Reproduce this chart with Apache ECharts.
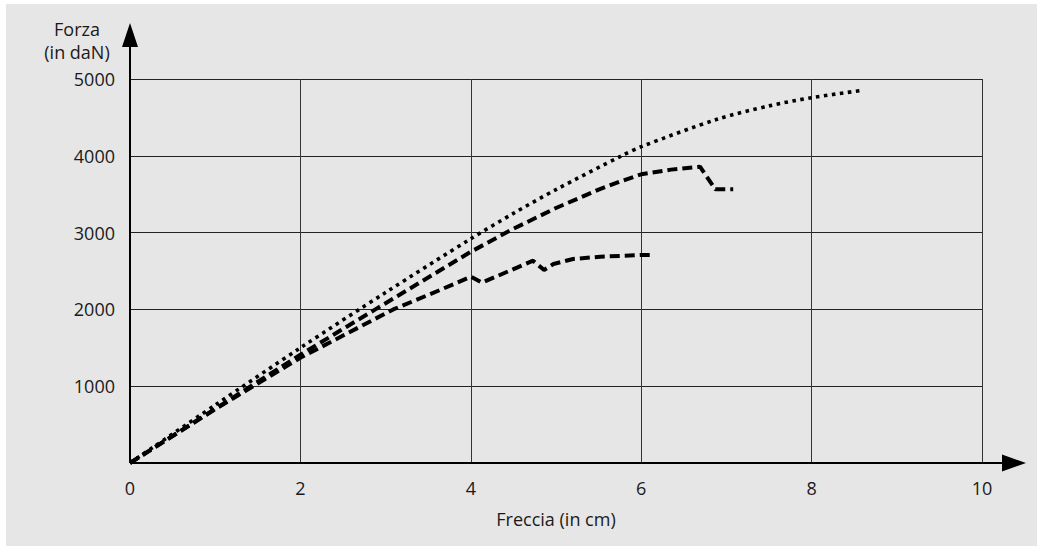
<!DOCTYPE html>
<html>
<head>
<meta charset="utf-8">
<script src="https://cdn.jsdelivr.net/npm/echarts@6/dist/echarts.min.js"></script>
<style>
html,body{margin:0;padding:0;background:#ffffff;}
#bg{position:absolute;left:6px;top:4px;width:1031px;height:542px;background:#e6e6e6;}
#chart{position:absolute;left:0;top:0;width:1039px;height:546px;}
</style>
</head>
<body>
<div id="bg"></div>
<div id="chart"></div>
<script>
// Data
const xTicks = [0, 2, 4, 6, 8, 10];
const yTicks = [1000, 2000, 3000, 4000, 5000];

const dottedX = [0, 1, 2, 3, 4, 4.5, 5, 5.77, 6, 6.89, 7.5, 8, 8.57];
const dottedY = [0, 755, 1500, 2220, 2920, 3250, 3560, 4000, 4119, 4475, 4650, 4757, 4848];

const upperDashX = [0, 1, 2, 2.88, 4, 4.5, 5, 5.5, 5.75, 6, 6.35, 6.69, 6.87, 7.08];
const upperDashY = [0, 705, 1410, 2000, 2750, 3050, 3320, 3560, 3663, 3759, 3820, 3858, 3564, 3564];

const lowerDashX = [0, 1, 2, 3.09, 3.64, 4, 4.13, 4.73, 4.86, 4.97, 5.2, 5.52, 6, 6.14];
const lowerDashY = [0, 700, 1370, 2000, 2253, 2426, 2348, 2634, 2513, 2591, 2656, 2686, 2708, 2708];

const xName = 'Freccia (in cm)';
const yName = 'Forza\n(in daN)';

function pairs(xs, ys){ return xs.map((x,i)=>[x, ys[i]]); }

const FONT = '"Open Sans", "Liberation Sans", sans-serif';
const chart = echarts.init(document.getElementById('chart'), null, {renderer:'svg'});

chart.setOption({
  backgroundColor: 'transparent',
  animation: false,
  grid: {left:130, right:57, top:79, bottom:83, containLabel:false},
  xAxis: {
    type:'value', min:0, max:10, interval:2,
    name: xName, nameLocation:'middle', nameGap:47,
    nameTextStyle:{fontFamily:FONT, fontSize:18, color:'#1a1a1a'},
    axisLine:{show:false}, axisTick:{show:false},
    axisLabel:{fontFamily:FONT, fontSize:18, color:'#1a1a1a', margin:16,
      formatter: v => xTicks.includes(v) ? String(v) : ''},
    splitLine:{show:true, lineStyle:{color:'#333', width:1}}
  },
  yAxis: {
    type:'value', min:0, max:5000, interval:1000,
    axisLine:{show:false}, axisTick:{show:false},
    axisLabel:{fontFamily:FONT, fontSize:18, color:'#1a1a1a', margin:15,
      formatter: v => yTicks.includes(v) ? String(v) : ''},
    splitLine:{show:true, lineStyle:{color:'#222', width:1}}
  },
  series: [
    {type:'line', data:pairs(dottedX, dottedY), showSymbol:false, smooth:0.3,
     lineStyle:{color:'#000', width:3.6, type:[3.5,4.5], cap:'butt'}},
    {type:'line', data:pairs(upperDashX, upperDashY), showSymbol:false,
     lineStyle:{color:'#000', width:4, type:[10,5], cap:'butt'}},
    {type:'line', data:pairs(lowerDashX, lowerDashY), showSymbol:false,
     lineStyle:{color:'#000', width:4, type:[10,5], cap:'butt'}}
  ]
});

// Axis lines with arrows (decoration), positioned from the axes' own scale
const o = chart.convertToPixel({gridIndex:0}, [0, 0]);
const xEnd = chart.convertToPixel({gridIndex:0}, [10, 0]);
const yEnd = chart.convertToPixel({gridIndex:0}, [0, 5000]);
const xLineEnd = xEnd[0] + 20, xTip = xEnd[0] + 44;
const yLineEnd = yEnd[1] - 32, yTip = yEnd[1] - 56;

chart.setOption({
  graphic: [
    {type:'line', shape:{x1:o[0], y1:o[1], x2:xLineEnd, y2:o[1]}, style:{stroke:'#000', lineWidth:2}, z:100},
    {type:'polygon', shape:{points:[[xLineEnd, o[1]-8.5],[xLineEnd, o[1]+8.5],[xTip, o[1]]]}, style:{fill:'#000'}, z:100},
    {type:'line', shape:{x1:o[0], y1:o[1], x2:o[0], y2:yLineEnd}, style:{stroke:'#000', lineWidth:2}, z:100},
    {type:'polygon', shape:{points:[[o[0]-8, yLineEnd],[o[0]+8, yLineEnd],[o[0], yTip]]}, style:{fill:'#000'}, z:100},
    {type:'text', x:77, y:17, style:{text:yName, font:'18px ' + FONT, fill:'#1a1a1a', textAlign:'center', textVerticalAlign:'top', lineHeight:23}, z:100}
  ]
});
</script>
</body>
</html>
